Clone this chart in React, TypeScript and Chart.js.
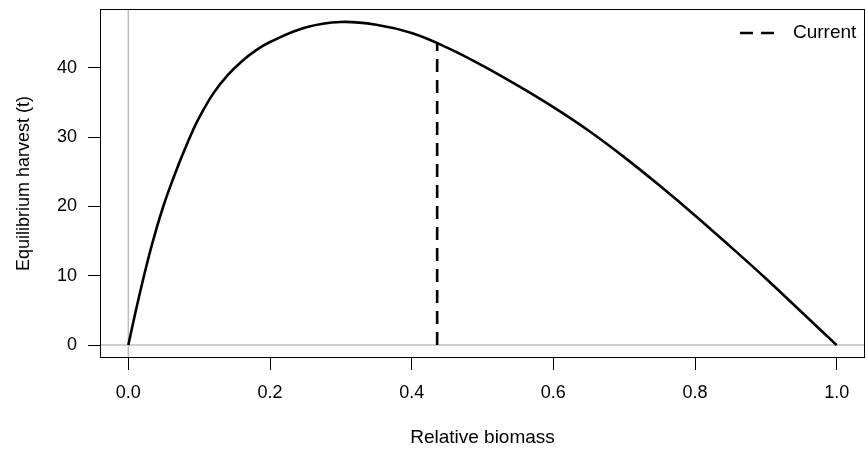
import React, { useEffect, useRef } from "react";
import { Chart, registerables } from "chart.js";

Chart.register(...registerables);

// ---- Data ----
const biomass = [0, 0.01, 0.02, 0.03, 0.04, 0.05, 0.06, 0.07, 0.08, 0.09, 0.1, 0.12, 0.14, 0.16, 0.18, 0.2, 0.25, 0.3, 0.35, 0.4, 0.45, 0.5, 0.55, 0.6, 0.65, 0.7, 0.75, 0.8, 0.85, 0.9, 0.95, 1.0];
const harvest = [0, 4.7, 9.1, 13.2, 16.9, 20.2, 23.1, 25.8, 28.3, 30.7, 32.8, 36.3, 38.9, 40.9, 42.5, 43.7, 45.8, 46.6, 46.2, 45.0, 42.9, 40.3, 37.4, 34.3, 30.9, 27.1, 23.0, 18.7, 14.2, 9.6, 4.8, 0];
const currentBiomass = 0.436;
const currentHarvest = 43.6;
const xTicks = [0, 0.2, 0.4, 0.6, 0.8, 1.0];
const yTicks = [0, 10, 20, 30, 40];
const xLabel = "Relative biomass";
const yLabel = "Equilibrium harvest (t)";
const legendLabel = "Current";

const FONT = "'Liberation Sans', Arial, Helvetica, sans-serif";
const FONT_SIZE = 18;

// R-style 4% axis expansion
const xMinData = Math.min(...biomass);
const xMaxData = Math.max(...biomass);
const yMinData = Math.min(...harvest);
const yMaxData = Math.max(...harvest);
const xPad = 0.04 * (xMaxData - xMinData);
const yPad = 0.04 * (yMaxData - yMinData);
const X_MIN = xMinData - xPad;
const X_MAX = xMaxData + xPad;
const Y_MIN = yMinData - yPad;
const Y_MAX = yMaxData + yPad;

const rDecor = {
  id: "rDecor",
  afterDraw(chart: any) {
    const { ctx, chartArea: a } = chart;
    ctx.save();
    // box
    ctx.strokeStyle = "#000";
    ctx.lineWidth = 1;
    ctx.setLineDash([]);
    ctx.strokeRect(a.left + 0.5, a.top + 0.5, a.right - a.left - 1, a.bottom - a.top - 1);
    // axis titles
    ctx.fillStyle = "#000";
    ctx.textAlign = "center";
    ctx.textBaseline = "middle";
    ctx.font = `19px ${FONT}`;
    ctx.fillText(xLabel, (a.left + a.right) / 2, a.bottom + 80);
    ctx.font = `${FONT_SIZE}px ${FONT}`;
    ctx.save();
    ctx.translate(24, (a.top + a.bottom) / 2);
    ctx.rotate(-Math.PI / 2);
    ctx.fillText(yLabel, 0, 0);
    ctx.restore();
    // legend (top-right, no box)
    const ly = a.top + 24;
    ctx.strokeStyle = "#000";
    ctx.lineWidth = 2.6;
    ctx.lineCap = "butt";
    ctx.setLineDash([13, 8]);
    ctx.beginPath();
    ctx.moveTo(a.right - 125, ly);
    ctx.lineTo(a.right - 91, ly);
    ctx.stroke();
    ctx.setLineDash([]);
    ctx.textAlign = "left";
    ctx.font = `19px ${FONT}`;
    ctx.fillText(legendLabel, a.right - 72, ly);
    ctx.restore();
  },
};

export default function App() {
  const ref = useRef<HTMLCanvasElement | null>(null);

  useEffect(() => {
    if (!ref.current) return;
    Chart.defaults.font.family = FONT;
    Chart.defaults.font.size = FONT_SIZE;
    Chart.defaults.color = "#000";

    const curve = biomass.map((x, i) => ({ x, y: harvest[i] }));

    const chart = new Chart(ref.current, {
      type: "line",
      data: {
        datasets: [
          {
            label: "curve",
            data: curve,
            borderColor: "#000",
            borderWidth: 2.6,
            pointRadius: 0,
            tension: 0.4,
            fill: false,
            order: 1,
          },
          {
            label: legendLabel,
            data: [
              { x: currentBiomass, y: 0 },
              { x: currentBiomass, y: currentHarvest },
            ],
            borderColor: "#000",
            borderWidth: 2.6,
            borderDash: [13, 8],
            borderCapStyle: "butt",
            pointRadius: 0,
            tension: 0,
            fill: false,
            order: 2,
          },
          {
            label: "hline",
            data: [
              { x: X_MIN, y: 0 },
              { x: X_MAX, y: 0 },
            ],
            borderColor: "#bebebe",
            borderWidth: 1.5,
            pointRadius: 0,
            tension: 0,
            fill: false,
            order: 3,
          },
          {
            label: "vline",
            data: [
              { x: 0, y: Y_MIN },
              { x: 0, y: Y_MAX },
            ],
            borderColor: "#bebebe",
            borderWidth: 1.5,
            pointRadius: 0,
            tension: 0,
            fill: false,
            order: 3,
          },
        ],
      },
      options: {
        responsive: false,
        animation: false,
        events: [],
        layout: { padding: { top: 9, right: 1, left: 0, bottom: 0 } },
        plugins: {
          legend: { display: false },
          tooltip: { enabled: false },
          title: { display: false },
        },
        scales: {
          x: {
            type: "linear",
            min: X_MIN,
            max: X_MAX,
            afterBuildTicks: (s: any) => {
              s.ticks = xTicks.map((v) => ({ value: v }));
            },
            afterFit: (s: any) => {
              s.height = 95;
              s.paddingLeft = 0;
              s.paddingRight = 0;
            },
            ticks: {
              callback: (v: any) => Number(v).toFixed(1),
              padding: 12,
              maxRotation: 0,
              autoSkip: false,
              color: "#000",
              font: { size: FONT_SIZE, family: FONT },
            },
            grid: {
              drawOnChartArea: false,
              drawTicks: true,
              tickLength: 12,
              tickColor: "#000",
              tickWidth: 1,
            },
            border: { display: false },
          },
          y: {
            type: "linear",
            min: Y_MIN,
            max: Y_MAX,
            afterBuildTicks: (s: any) => {
              s.ticks = yTicks.map((v) => ({ value: v }));
            },
            afterFit: (s: any) => {
              s.width = 100;
              s.paddingTop = 0;
              s.paddingBottom = 0;
            },
            ticks: {
              callback: (v: any) => String(v),
              padding: 11,
              autoSkip: false,
              color: "#000",
              font: { size: FONT_SIZE, family: FONT },
            },
            grid: {
              drawOnChartArea: false,
              drawTicks: true,
              tickLength: 12,
              tickColor: "#000",
              tickWidth: 1,
            },
            border: { display: false },
          },
        },
      },
      plugins: [rDecor],
    });

    return () => chart.destroy();
  }, []);

  return (
    <div style={{ position: "fixed", left: 0, top: 0, width: 866, height: 453, background: "#fff" }}>
      <canvas ref={ref} width={866} height={453} style={{ display: "block" }} />
    </div>
  );
}
